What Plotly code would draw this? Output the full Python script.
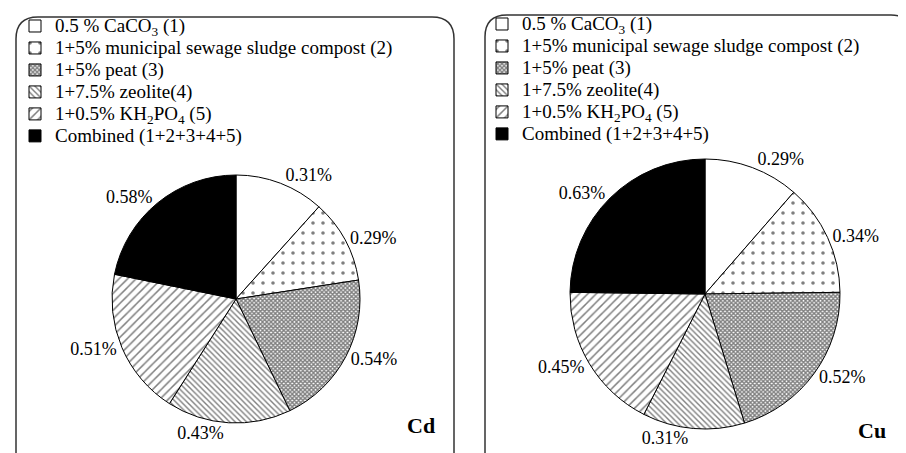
import plotly.graph_objects as go

W, H = 906, 453

labels = [
    "0.5 % CaCO<sub>3</sub> (1)",
    "1+5% municipal sewage sludge compost (2)",
    "1+5% peat (3)",
    "1+7.5% zeolite(4)",
    "1+0.5% KH<sub>2</sub>PO<sub>4</sub> (5)",
    "Combined (1+2+3+4+5)",
]
cd_values = [0.31, 0.29, 0.54, 0.43, 0.51, 0.58]
cu_values = [0.29, 0.34, 0.52, 0.31, 0.45, 0.63]
panel_titles = ["Cd", "Cu"]

bg_colors = ["white", "white", "white", "white", "white", "black"]
pat_shapes = ["", ".", "x", "\\", "/", ""]
pat_sizes = [6, 10, 3, 4, 6, 6]
pat_solid = [0.2, 0.1, 0.7, 0.35, 0.25, 0.2]

FONT = "Liberation Serif, Times New Roman, serif"
LEGEND_TEXT_PX = 19


def px(x):
    return x / W


def py(y):
    return 1 - y / H


def rounded_box(x0, y0, x1, y1, r):
    rx, ry = r / W, r / H
    X0, X1 = px(x0), px(x1)
    Y0, Y1 = py(y0), py(y1)  # Y0 top, Y1 bottom
    return (
        f"M {X0 + rx},{Y0} L {X1 - rx},{Y0} Q {X1},{Y0} {X1},{Y0 - ry} "
        f"L {X1},{Y1 + ry} Q {X1},{Y1} {X1 - rx},{Y1} "
        f"L {X0 + rx},{Y1} Q {X0},{Y1} {X0},{Y1 + ry} "
        f"L {X0},{Y0 - ry} Q {X0},{Y0} {X0 + rx},{Y0} Z"
    )


legend_labels = [f'<span style="font-size:{LEGEND_TEXT_PX}px">{t}</span>' for t in labels]

fig = go.Figure()

common = dict(
    labels=legend_labels,
    sort=False,
    direction="clockwise",
    rotation=0,
    texttemplate="%{value:.2f}%",
    textposition="outside",
    textfont=dict(family=FONT, size=18, color="black"),
    hoverinfo="skip",
    marker=dict(
        colors=bg_colors,
        line=dict(color="black", width=1),
        pattern=dict(
            shape=pat_shapes,
            size=pat_sizes,
            solidity=pat_solid,
            fgcolor="black",
            fillmode="overlay",
        ),
    ),
)

fig.add_trace(go.Pie(
    values=cd_values,
    domain=dict(x=[px(104), px(352)], y=[py(415), py(167)]),
    legend="legend",
    legendgroup="cd",
    **common,
))
fig.add_trace(go.Pie(
    values=cu_values,
    domain=dict(x=[px(562), px(832)], y=[py(421), py(151)]),
    legend="legend2",
    legendgroup="cu",
    **common,
))

legend_common = dict(
    font=dict(family=FONT, size=14.6, color="black"),
    bgcolor="rgba(0,0,0,0)",
    borderwidth=0,
    xanchor="left",
    yanchor="top",
    itemwidth=30,
    tracegroupgap=0,
    itemclick=False,
    itemdoubleclick=False,
)

fig.update_layout(
    width=W,
    height=H,
    margin=dict(l=0, r=0, t=0, b=0),
    paper_bgcolor="white",
    plot_bgcolor="white",
    showlegend=True,
    legend=dict(x=px(7), y=py(2), **legend_common),
    legend2=dict(x=px(474), y=py(0), **legend_common),
    shapes=[
        dict(type="path", xref="paper", yref="paper",
             path=rounded_box(8, 9, 446, 470, 22),
             line=dict(color="#333", width=1.5)),
        dict(type="path", xref="paper", yref="paper",
             path=rounded_box(477, 7, 905, 470, 22),
             line=dict(color="#333", width=1.5)),
    ],
    annotations=[
        dict(text=f"<b>{panel_titles[0]}</b>", x=px(413), y=py(432), xref="paper", yref="paper",
             showarrow=False, font=dict(family=FONT, size=22, color="black")),
        dict(text=f"<b>{panel_titles[1]}</b>", x=px(880), y=py(437), xref="paper", yref="paper",
             showarrow=False, font=dict(family=FONT, size=22, color="black")),
    ],
)

fig.write_html("out.html")
